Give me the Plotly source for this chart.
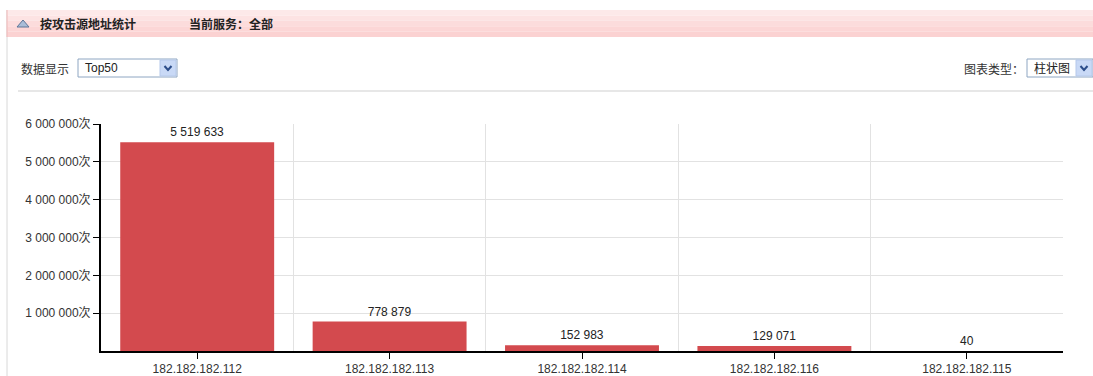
import plotly.graph_objects as go

# Attack source statistics (hits per source address)
source_ips = ["182.182.182.112", "182.182.182.113", "182.182.182.114",
              "182.182.182.116", "182.182.182.115"]
hit_counts = [5519633, 778879, 152983, 129071, 40]
y_tick_values = [1000000, 2000000, 3000000, 4000000, 5000000, 6000000]
y_tick_labels = ["1 000 000次", "2 000 000次", "3 000 000次",
                 "4 000 000次", "5 000 000次", "6 000 000次"]

W, H = 1093, 376
L, R, T, B = 101, 30, 124, 25
PW, PH = W - L - R, H - T - B

FONT = "Liberation Sans, Arial, Noto Sans CJK SC, sans-serif"
CJK = "Noto Sans CJK SC, Liberation Sans, sans-serif"


def px(x):
    return (x - L) / PW


def py(y):
    return (H - B - y) / PH


positions = list(range(len(source_ips)))
boundaries = [i + 0.5 for i in positions[:-1]]

fig = go.Figure(go.Bar(
    x=positions,
    y=hit_counts,
    width=0.8,
    marker=dict(color="#d34a4e", line=dict(width=0)),
    texttemplate="%{y:,}",
    textposition="outside",
    textfont=dict(family=FONT, size=12, color="#222222"),
    cliponaxis=False,
    hoverinfo="skip",
))

shapes = []
annotations = []

# panel left border
shapes.append(dict(type="line", xref="paper", yref="paper",
                   x0=px(7), x1=px(7), y0=py(10), y1=py(376),
                   line=dict(color="#d8d8d8", width=1), layer="below"))

# header band (soft vertical gradient)
bands = ["#fde9e9", "#fde3e3", "#fcdcdc", "#fcd6d6", "#fbd2d2"]
band_h = 27 / len(bands)
for i, c in enumerate(bands):
    shapes.append(dict(type="rect", xref="paper", yref="paper",
                       x0=px(7), x1=px(1093),
                       y0=py(10 + (i + 1) * band_h), y1=py(10 + i * band_h),
                       fillcolor=c, line=dict(width=0), layer="below"))
shapes.append(dict(type="line", xref="paper", yref="paper",
                   x0=px(7), x1=px(7), y0=py(10), y1=py(37),
                   line=dict(color="#f0b8b8", width=1)))

# header triangle icon
shapes.append(dict(type="path", xref="paper", yref="paper",
                   path=f"M {px(17)},{py(27)} L {px(29)},{py(27)} L {px(23)},{py(20)} Z",
                   fillcolor="#a9bdd8", line=dict(color="#5d7597", width=1)))

annotations.append(dict(text="<b>按攻击源地址统计</b>", xref="paper", yref="paper",
                        x=px(38), y=py(23), xanchor="left", yanchor="middle",
                        showarrow=False, font=dict(family=CJK, size=12, color="#222222")))
annotations.append(dict(text="<b>当前服务：全部</b>", xref="paper", yref="paper",
                        x=px(187), y=py(23), xanchor="left", yanchor="middle",
                        showarrow=False, font=dict(family=CJK, size=12, color="#222222")))

# data display selector
annotations.append(dict(text="数据显示", xref="paper", yref="paper",
                        x=px(19), y=py(68), xanchor="left", yanchor="middle",
                        showarrow=False, font=dict(family=CJK, size=12, color="#333333")))


def select_box(x0, x1, label):
    shapes.append(dict(type="rect", xref="paper", yref="paper",
                       x0=px(x0), x1=px(x1), y0=py(77), y1=py(59),
                       fillcolor="#ffffff", line=dict(color="#8ea6c2", width=1)))
    shapes.append(dict(type="rect", xref="paper", yref="paper",
                       x0=px(x1 - 17), x1=px(x1 - 1), y0=py(76), y1=py(60),
                       fillcolor="#c9d9f6", line=dict(color="#b5c8ea", width=1)))
    cx = x1 - 9
    shapes.append(dict(type="path", xref="paper", yref="paper",
                       path=(f"M {px(cx - 3.5)},{py(66)} L {px(cx)},{py(70)} "
                             f"L {px(cx + 3.5)},{py(66)}"),
                       line=dict(color="#2c4d8a", width=2)))
    annotations.append(dict(text=label, xref="paper", yref="paper",
                            x=px(x0 + 5), y=py(68), xanchor="left", yanchor="middle",
                            showarrow=False,
                            font=dict(family=FONT + ", " + CJK, size=12, color="#222222")))


select_box(78, 177, "Top50")

annotations.append(dict(text="图表类型：", xref="paper", yref="paper",
                        x=px(1026), y=py(68), xanchor="right", yanchor="middle",
                        showarrow=False, font=dict(family=CJK, size=12, color="#333333")))
select_box(1027, 1093, "柱状图")

# separator line under the toolbar
shapes.append(dict(type="line", xref="paper", yref="paper",
                   x0=px(18), x1=px(1093), y0=py(91), y1=py(91),
                   line=dict(color="#cfcfcf", width=1)))

fig.update_layout(
    width=W, height=H,
    margin=dict(l=L, r=R, t=T, b=B, pad=0, autoexpand=False),
    paper_bgcolor="#ffffff",
    plot_bgcolor="#ffffff",
    separators=". ",
    showlegend=False,
    bargap=0.2,
    shapes=shapes,
    annotations=annotations,
    font=dict(family=FONT, size=12, color="#333333"),
    xaxis=dict(
        range=[-0.5, len(source_ips) - 0.5],
        tickmode="array", tickvals=positions, ticktext=source_ips,
        ticks="outside", ticklen=6, tickcolor="#000000", tickwidth=1,
        showline=True, linecolor="#000000", linewidth=2,
        showgrid=False, zeroline=False, automargin=False,
        tickfont=dict(family=FONT, size=12, color="#333333"),
        minor=dict(tickmode="array", tickvals=boundaries, showgrid=True,
                   gridcolor="#e2e2e2", gridwidth=1, ticks=""),
        fixedrange=True,
    ),
    yaxis=dict(
        range=[0, 6000000],
        tickmode="array", tickvals=y_tick_values, ticktext=y_tick_labels,
        ticks="outside", ticklen=6, tickcolor="#000000", tickwidth=1,
        showline=True, linecolor="#000000", linewidth=2,
        showgrid=True, gridcolor="#e2e2e2", gridwidth=1, zeroline=False,
        automargin=False,
        tickfont=dict(family=FONT + ", " + CJK, size=12, color="#333333"),
        fixedrange=True,
    ),
)

fig.write_html("out.html", config={"displayModeBar": False})
